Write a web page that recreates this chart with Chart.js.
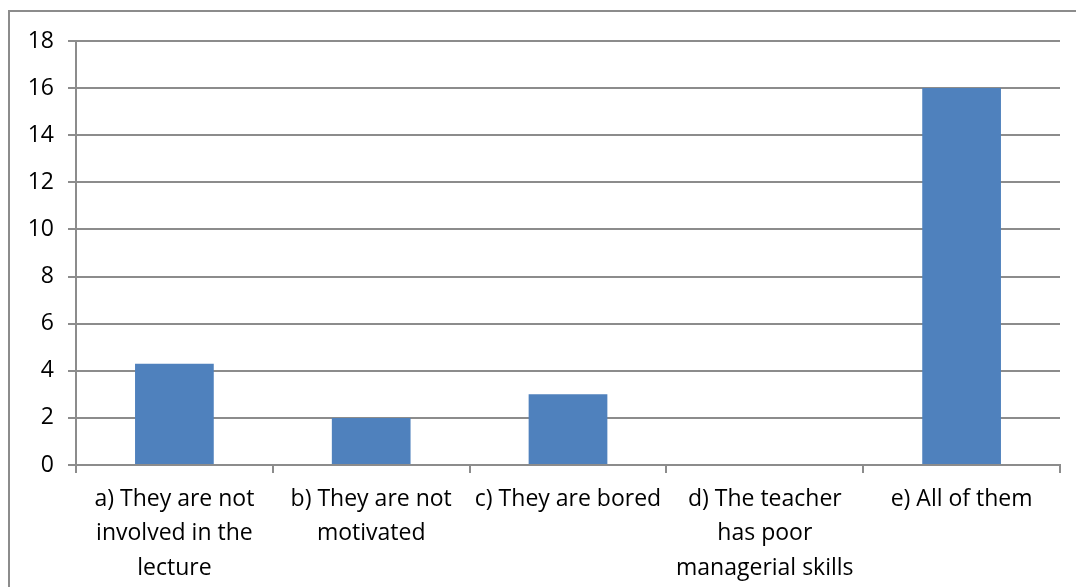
<!DOCTYPE html>
<html>
<head>
<meta charset="utf-8">
<script src="https://cdn.jsdelivr.net/npm/chart.js@4"></script>
<style>
  html, body { margin: 0; padding: 0; background: #fff; overflow: hidden; }
  #frame { position: absolute; left: 8px; top: 10px; width: 1100px; height: 620px;
           border-left: 2px solid #8c8c8c; border-top: 2px solid #8c8c8c; }
  #wrap { position: absolute; left: 0; top: 0; width: 1076px; height: 587px; }
</style>
</head>
<body>
<div id="frame"></div>
<div id="wrap"><canvas id="barChart"></canvas></div>
<script>
const categories = [
  ["a) They are not", "involved in the", "lecture"],
  ["b) They are not", "motivated"],
  ["c) They are bored"],
  ["d) The teacher", "has poor", "managerial skills"],
  ["e) All of them"]
];
const counts = [4.3, 2, 3, 0, 16];
const yTicks = [0, 2, 4, 6, 8, 10, 12, 14, 16, 18];

const gridColor = "#8c8c8c";

const ctx = document.getElementById("barChart").getContext("2d");
const chart = new Chart(ctx, {
  type: "bar",
  data: {
    labels: categories,
    datasets: [{
      data: counts,
      backgroundColor: "#4f81bd",
      borderWidth: 0,
      barPercentage: 0.4,
      categoryPercentage: 1.0
    }]
  },
  options: {
    responsive: true,
    maintainAspectRatio: false,
    animation: false,
    layout: { padding: { top: 41, right: 16, bottom: 0, left: 0 } },
    plugins: {
      legend: { display: false },
      tooltip: { enabled: false }
    },
    scales: {
      x: {
        grid: {
          offset: true,
          drawOnChartArea: false,
          color: gridColor,
          lineWidth: 2,
          tickLength: 8
        },
        border: { color: gridColor, width: 2 },
        ticks: {
          color: "#000",
          font: { family: "Open Sans", size: 23, lineHeight: 1.5 },
          maxRotation: 0,
          autoSkip: false,
          padding: 9
        },
        afterFit: scale => { scale.height = 122; }
      },
      y: {
        min: 0,
        max: 18,
        afterBuildTicks: scale => { scale.ticks = yTicks.map(v => ({ value: v })); },
        grid: { color: gridColor, lineWidth: 2, tickLength: 8 },
        border: { color: gridColor, width: 2 },
        ticks: {
          color: "#000",
          font: { family: "Open Sans", size: 23 },
          padding: 14
        },
        afterFit: scale => { scale.width = 76; }
      }
    }
  }
});
</script>
</body>
</html>
